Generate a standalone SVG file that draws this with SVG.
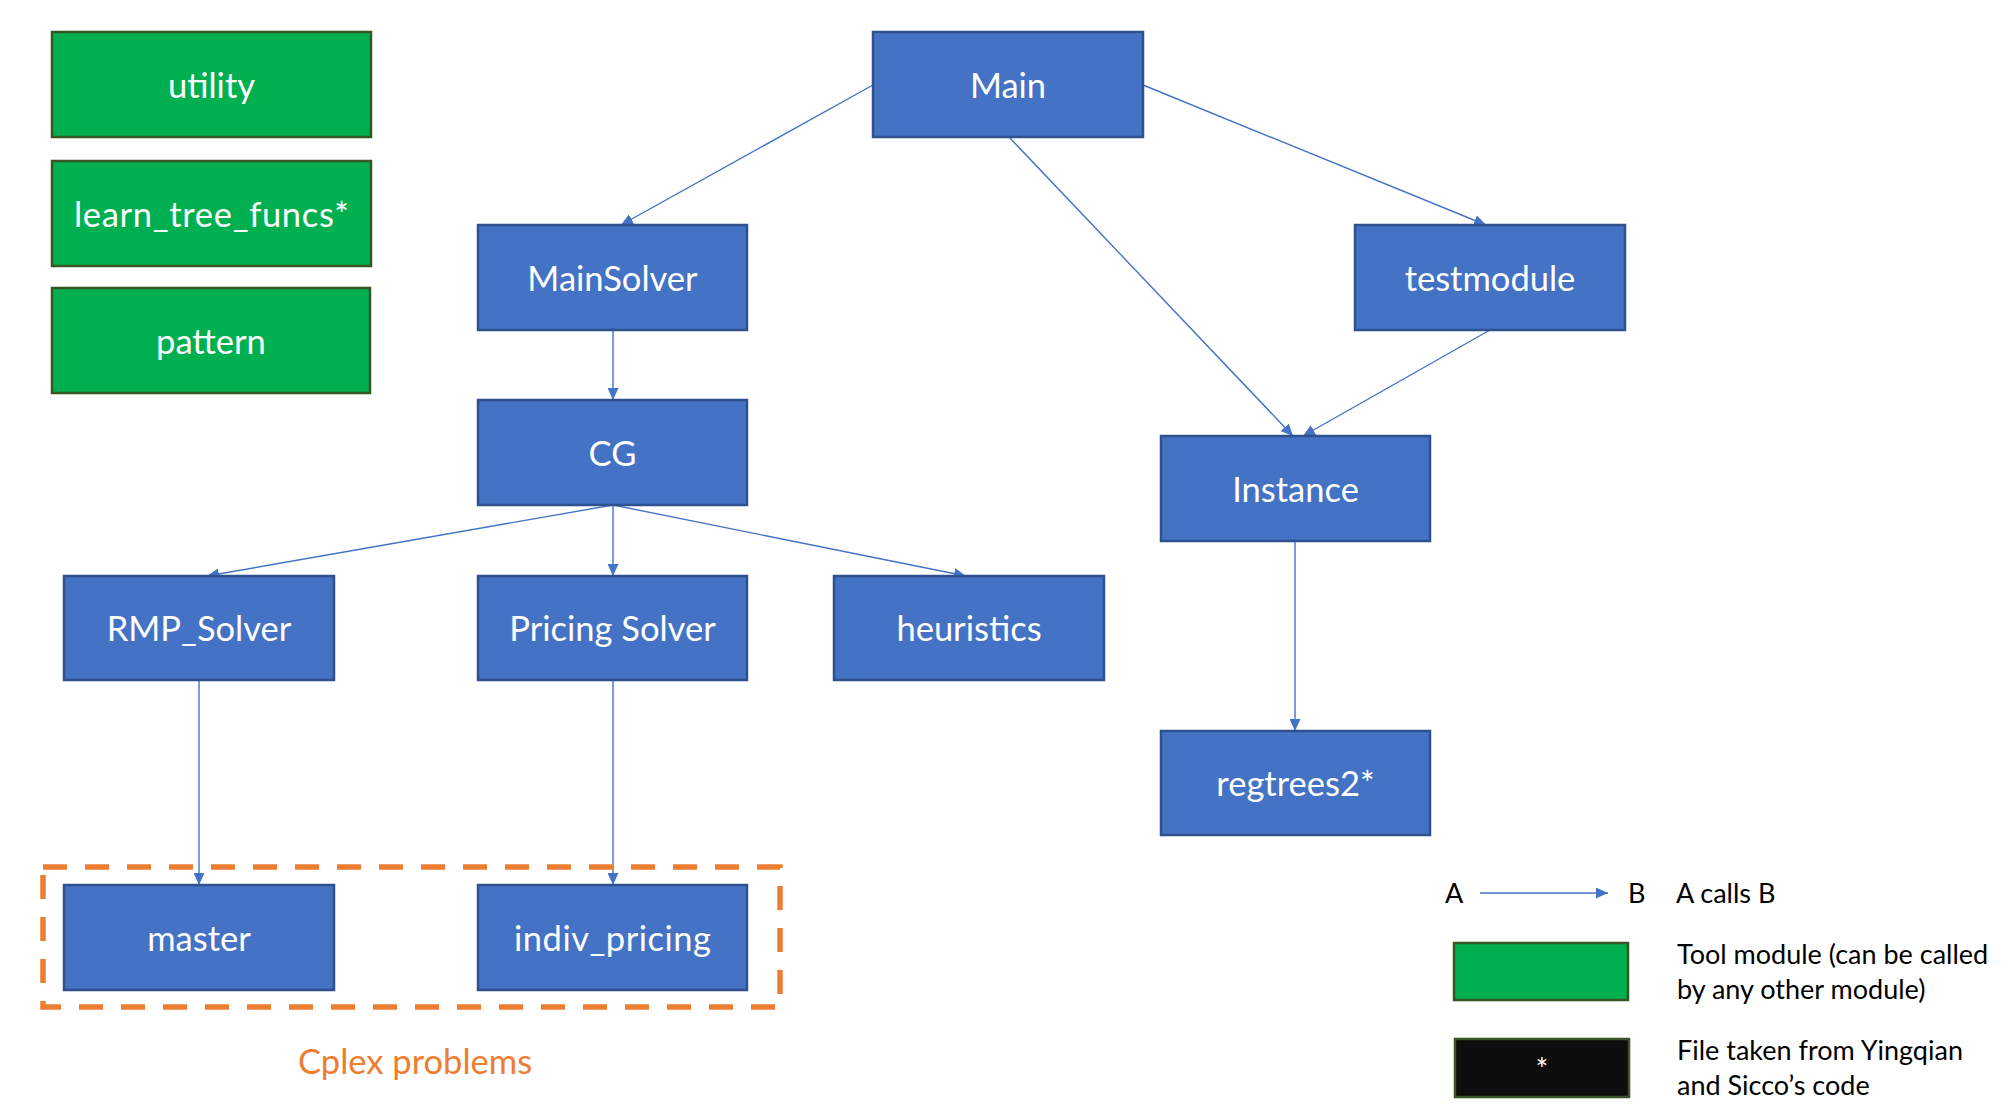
<svg xmlns="http://www.w3.org/2000/svg" width="2009" height="1120" viewBox="0 0 2009 1120">
<style>
.blue{fill:#4472C4;stroke:#2F528F;stroke-width:2.5}
.green{fill:#00B050;stroke:#375623;stroke-width:2.5}
.blk{fill:#0D0D0D;stroke:#375623;stroke-width:2.5}
.lbl{font-family:Lato,"Liberation Sans",sans-serif;font-size:34.5px;fill:#FFFFFF;text-anchor:middle}
.leg{font-family:Lato,"Liberation Sans",sans-serif;font-size:27px;fill:#000000}
.conn line{stroke:#4472C4;stroke-width:1.4;fill:none;marker-end:url(#ah)}
</style>
<defs>
<marker id="ah" markerUnits="userSpaceOnUse" markerWidth="12" markerHeight="11" refX="12" refY="5.5" orient="auto">
<path d="M0,0 L12,5.5 L0,11 z" fill="#4472C4"/>
</marker>
</defs>
<rect width="2009" height="1120" fill="#FFFFFF"/>
<g id="connectors" class="conn">
<line x1="873" y1="85" x2="621" y2="225"/>
<line x1="1143" y1="85" x2="1486" y2="225"/>
<line x1="1009" y1="137" x2="1293" y2="436"/>
<line x1="1490" y1="330" x2="1303" y2="436"/>
<line x1="613" y1="330" x2="613" y2="400"/>
<line x1="613" y1="505" x2="207" y2="576"/>
<line x1="613" y1="505" x2="613" y2="576"/>
<line x1="613" y1="505" x2="966" y2="576"/>
<line x1="1295" y1="541" x2="1295" y2="731"/>
<line x1="199" y1="680" x2="199" y2="885"/>
<line x1="613" y1="680" x2="613" y2="885"/>
</g>
<g id="utility"><rect class="green" x="52" y="32" width="319" height="105"/><text class="lbl" x="211.5" y="98">utility</text></g>
<g id="learn_tree_funcs"><rect class="green" x="52" y="161" width="319" height="105"/><text class="lbl" x="211.5" y="227" textLength="275" lengthAdjust="spacing">learn_tree_funcs*</text></g>
<g id="pattern"><rect class="green" x="52" y="288" width="318" height="105"/><text class="lbl" x="211" y="354">pattern</text></g>
<g id="Main"><rect class="blue" x="873" y="32" width="270" height="105"/><text class="lbl" x="1008" y="98">Main</text></g>
<g id="MainSolver"><rect class="blue" x="478" y="225" width="269" height="105"/><text class="lbl" x="612.5" y="291">MainSolver</text></g>
<g id="testmodule"><rect class="blue" x="1355" y="225" width="270" height="105"/><text class="lbl" x="1490" y="291">testmodule</text></g>
<g id="CG"><rect class="blue" x="478" y="400" width="269" height="105"/><text class="lbl" x="612.5" y="466">CG</text></g>
<g id="Instance"><rect class="blue" x="1161" y="436" width="269" height="105"/><text class="lbl" x="1295.5" y="502">Instance</text></g>
<g id="RMP_Solver"><rect class="blue" x="64" y="576" width="270" height="104"/><text class="lbl" x="199" y="641">RMP_Solver</text></g>
<g id="PricingSolver"><rect class="blue" x="478" y="576" width="269" height="104"/><text class="lbl" x="612.5" y="641">Pricing Solver</text></g>
<g id="heuristics"><rect class="blue" x="834" y="576" width="270" height="104"/><text class="lbl" x="969" y="641">heuristics</text></g>
<g id="regtrees2"><rect class="blue" x="1161" y="731" width="269" height="104"/><text class="lbl" x="1295.5" y="796">regtrees2*</text></g>
<g id="cplex_group">
<rect x="43" y="867" width="737" height="140" fill="none" stroke="#ED7D31" stroke-width="5.5" stroke-dasharray="24 18"/>
<text x="415" y="1074" font-family="Lato,'Liberation Sans',sans-serif" font-size="34.5px" fill="#ED7D31" text-anchor="middle">Cplex problems</text>
</g>
<g id="master"><rect class="blue" x="64" y="885" width="270" height="105"/><text class="lbl" x="199" y="951">master</text></g>
<g id="indiv_pricing"><rect class="blue" x="478" y="885" width="269" height="105"/><text class="lbl" x="612.5" y="951" textLength="197" lengthAdjust="spacing">indiv_pricing</text></g>
<g id="legend">
<text class="leg" x="1445" y="903">A</text>
<line x1="1480" y1="893" x2="1608" y2="893" stroke="#4472C4" stroke-width="1.4" marker-end="url(#ah)"/>
<text class="leg" x="1628" y="903">B</text>
<text class="leg" x="1676" y="903">A calls B</text>
<rect class="green" x="1454" y="943" width="174" height="57"/>
<text class="leg" x="1677" y="964">Tool module (can be called</text>
<text class="leg" x="1677" y="999">by any other module)</text>
<rect class="blk" x="1455" y="1039" width="174" height="58"/>
<text x="1542" y="1080" font-family="Lato,'Liberation Sans',sans-serif" font-size="30px" fill="#FFFFFF" text-anchor="middle">*</text>
<text class="leg" x="1677" y="1060">File taken from Yingqian</text>
<text class="leg" x="1677" y="1095">and Sicco’s code</text>
</g>
</svg>
